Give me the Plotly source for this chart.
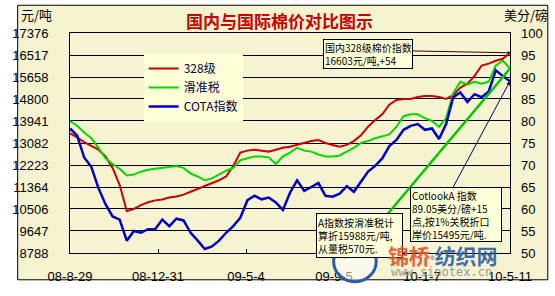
import pandas as pd
import plotly.graph_objects as go

# ---------------- data ----------------
dates = pd.date_range("2008-08-29", "2010-05-11", freq="10D")

red_328 = [13456, 13306, 13119, 12970, 12821, 12559, 12111, 11439, 10431, 10506,
           10655, 10767, 10842, 10879, 10954, 10991, 11066, 11178, 11290, 11402,
           11514, 11626, 11775, 12186, 12709, 12784, 12821, 12784, 12746, 12821,
           12895, 12933, 13007, 13082, 13157, 13194, 13082, 13007, 12933, 13007,
           13157, 13381, 13717, 13978, 14202, 14576, 14762, 14800, 14800, 14875,
           14912, 14912, 14875, 14800, 14949, 15248, 15398, 15696, 16107, 16181,
           16293, 16368, 16603]

green_slide = [13941, 13754, 13493, 13269, 12895, 12485, 12261, 12074, 11813, 11850,
               11962, 12037, 12074, 12111, 12149, 12186, 12111, 11887, 11775, 11626,
               11701, 11850, 12000, 12111, 12410, 12485, 12559, 12559, 12522, 12261,
               12559, 12709, 12895, 12784, 12746, 12634, 12559, 12559, 12597, 12746,
               12895, 13082, 13157, 13269, 13344, 13418, 13717, 14128, 14202, 14202,
               14053, 13941, 13717, 14053, 15024, 15472, 15360, 15472, 15397, 15472,
               16107, 16293, 15988]

blue_cota = [78.3, 76.7, 71.7, 69.6, 64.8, 61.1, 58.3, 57.6, 52.8, 55.0,
             54.6, 55.4, 55.4, 57.6, 56.1, 57.8, 57.4, 54.6, 52.8, 50.9,
             51.5, 52.8, 54.6, 56.1, 58.0, 62.0, 63.0, 62.2, 62.6, 61.5,
             59.8, 63.7, 66.5, 64.1, 65.0, 65.9, 63.0, 62.8, 63.5, 65.2,
             63.9, 66.3, 68.5, 69.8, 71.5, 74.3, 75.7, 78.0, 78.9, 79.3,
             78.0, 78.3, 75.9, 79.3, 85.4, 86.5, 84.3, 86.1, 85.4, 86.7,
             91.5, 90.2, 89.05]

left_ticks = [8788, 9647, 10506, 11364, 12223, 13082, 13941, 14800, 15658, 16517, 17376]
right_ticks = [50, 55, 60, 65, 70, 75, 80, 85, 90, 95, 100]
x_tickvals = ["2008-08-29", "2008-12-31", "2009-05-04", "2009-09-05", "2010-01-07", "2010-05-11"]
x_ticktext = ["08-8-29", "08-12-31", "09-5-4", "09-9-5", "10-1-7", "10-5-11"]

names = ["328级", "滑准税", "COTA指数"]

# ---------------- layout helpers ----------------
W, H = 555, 296
L, R, T, B = 58, 512, 33, 263
def px(x):
    return (x - L) / (R - L)
def py(y):
    return (B - y) / (B - T)

OUTER = "#F6F4D0"
PLOT = "#FFFFD8"
FONT = "Liberation Sans, Noto Sans CJK SC, sans-serif"
CJK = "Noto Sans CJK SC, sans-serif"

fig = go.Figure()
fig.add_trace(go.Scatter(x=dates, y=red_328, name=names[0], mode="lines",
                         line=dict(color="#CC0000", width=2)))
fig.add_trace(go.Scatter(x=dates, y=green_slide, name=names[1], mode="lines",
                         line=dict(color="#00D800", width=2)))
fig.add_trace(go.Scatter(x=dates, y=blue_cota, name=names[2], mode="lines", yaxis="y2",
                         line=dict(color="#0000C8", width=2.5)))

fig.update_layout(
    width=W, height=H,
    margin=dict(l=L, r=W - R, t=T, b=H - B, pad=0),
    paper_bgcolor="white",
    plot_bgcolor=PLOT,
    font=dict(family=FONT, size=12, color="black"),
    showlegend=True,
    legend=dict(x=px(134), y=py(55), xanchor="left", yanchor="top",
                bgcolor=PLOT, borderwidth=0, font=dict(family=CJK, size=12, color="#000040"),
                itemwidth=30, tracegroupgap=0),
    xaxis=dict(type="date", range=["2008-08-29", "2010-05-11"],
               tickvals=x_tickvals, ticktext=x_ticktext,
               showgrid=False, zeroline=False,
               showline=True, linecolor="black", linewidth=1, mirror=True,
               ticks="inside", ticklen=4, tickcolor="black",
               tickfont=dict(size=13, color="black"), ticklabelstandoff=11),
    yaxis=dict(range=[8788, 17376], tickvals=left_ticks,
               ticktext=[str(v) for v in left_ticks],
               showgrid=True, gridcolor="black", gridwidth=1, zeroline=False,
               showline=True, linecolor="black", linewidth=1, mirror=True,
               ticks="", tickfont=dict(size=13, color="black"), ticklabelstandoff=18),
    yaxis2=dict(range=[50, 100], tickvals=right_ticks, overlaying="y", side="right",
                showgrid=False, zeroline=False, showline=False,
                ticks="", tickfont=dict(size=13, color="black"), ticklabelstandoff=10),
)

shapes = [
    dict(type="rect", xref="paper", yref="paper", layer="below",
         x0=px(4), x1=px(551), y0=py(291), y1=py(4),
         fillcolor=OUTER, line=dict(color="black", width=1)),
]

ann = []
def label(text, x, y, size, color="black", xanchor="center", family=CJK, opacity=1):
    return dict(text=text, xref="paper", yref="paper", x=px(x), y=py(y),
                xanchor=xanchor, yanchor="middle", showarrow=False, opacity=opacity,
                font=dict(family=family, size=size, color=color))

ann.append(label("<b>国内与国际棉价对比图示</b>", 274, 20, 17, "#CC0000"))
ann.append(label("元/吨", 5, 14, 13, xanchor="left"))
ann.append(label("美分/磅", 553, 14, 13, xanchor="right"))

# leader lines to the last points
last = dates[-1]
ann.append(dict(x=last, y=red_328[-1], xref="x", yref="y", text="", showarrow=True,
                ax=-104, ay=-2, arrowhead=1, arrowsize=0.7, arrowwidth=1, arrowcolor="#400000"))
ann.append(dict(x=last, y=green_slide[-1], xref="x", yref="y", text="", showarrow=True,
                ax=-127, ay=151, arrowhead=0, arrowwidth=2.5, arrowcolor="#00C800"))
ann.append(dict(x=last, y=blue_cota[-1], xref="x", yref="y2", text="", showarrow=True,
                ax=-59, ay=110, arrowhead=2, arrowsize=0.8, arrowwidth=1, arrowcolor="#000060"))

def box(text, x0, y0, w, h):
    return dict(text=text, xref="paper", yref="paper", x=px(x0), y=py(y0),
                xanchor="left", yanchor="top", align="left", valign="middle",
                showarrow=False, width=w, height=h, borderpad=1,
                bgcolor=PLOT, bordercolor="black", borderwidth=1,
                font=dict(family=CJK, size=10, color="black"))

ann.append(box("国内328级棉价指数<br>16603元/吨,+54", 319, 39, 86, 26))
ann.append(box("CotlookA 指数<br>89.05美分/磅+15<br>点,按1%关税折口<br>岸价15495元/吨.", 409, 194, 88, 51))
ann.append(box("A指数按滑准税计<br>算折15988元/吨,<br>从量税570元.", 312, 221, 83, 41))

# watermark
shapes.append(dict(type="circle", xref="paper", yref="paper",
                   x0=px(330), x1=px(374), y0=py(293), y1=py(250),
                   fillcolor="rgba(255,255,255,0.55)", line=dict(color="#2A5CAA", width=3)))
shapes.append(dict(type="path", xref="paper", yref="paper",
                   path=f"M {px(340)},{py(268)} Q {px(354)},{py(262)} {px(368)},{py(263)}",
                   line=dict(color="#E0402A", width=2)))
ann.append(dict(text="<b><span style='color:#E8502A'>锦桥</span><span style='color:#7080A0;font-size:9px'>®</span><span style='color:#2E5FA8'>纺织网</span></b>",
                xref="paper", yref="paper", x=px(443), y=py(265), xanchor="center", yanchor="middle",
                showarrow=False, font=dict(family=CJK, size=21), opacity=0.9))
ann.append(label("www.sinotex.cn", 441, 283, 12, "#8A8A8A",
                 family="DejaVu Sans Mono, monospace", opacity=0.85))

fig.update_layout(shapes=shapes, annotations=ann)
fig.write_html("out.html")
